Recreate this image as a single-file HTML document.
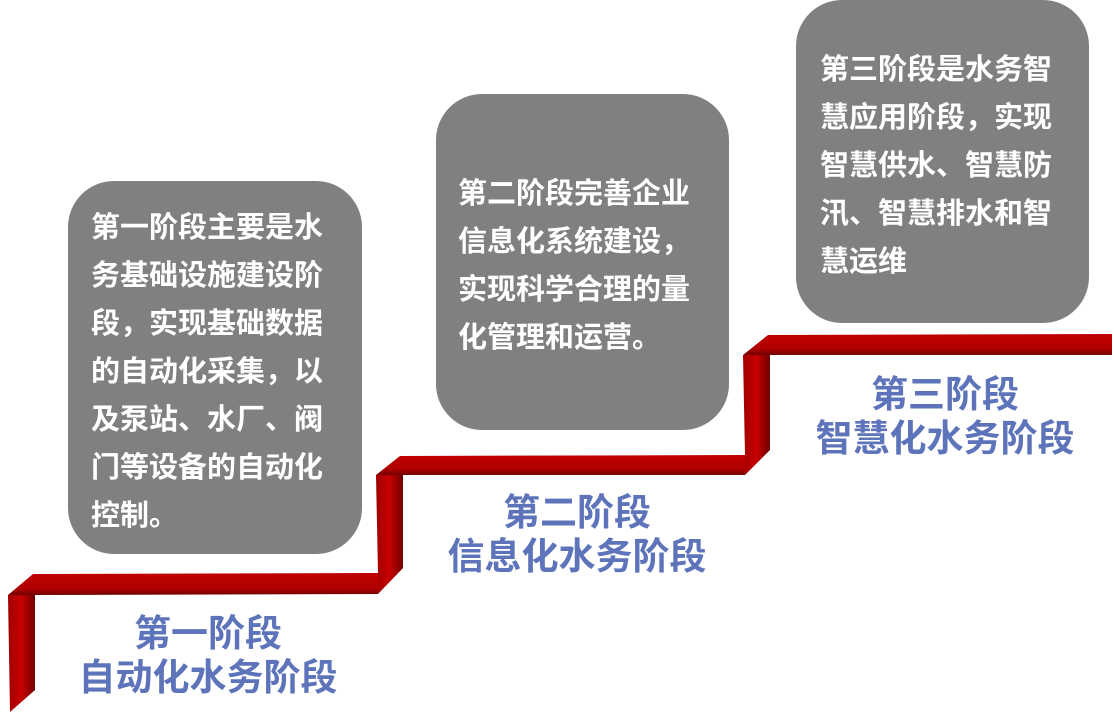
<!DOCTYPE html>
<html><head><meta charset="utf-8"><style>
body{margin:0;width:1114px;height:715px;background:#fff;position:relative;overflow:hidden;font-family:"Liberation Sans","Noto Sans CJK SC",sans-serif;}
.box{position:absolute;background:#808080;border-radius:46px;color:#fff;font-weight:bold;font-size:29px;line-height:48px;box-sizing:border-box;white-space:nowrap;}
.lbl{position:absolute;color:#5d74ba;font-weight:bold;font-size:37px;line-height:44px;text-align:center;}
</style></head><body>
<svg width="1114" height="715" style="position:absolute;left:0;top:0">
<defs>
<linearGradient id="v" x1="0" x2="1" y1="0" y2="0"><stop offset="0" stop-color="#a00000"/><stop offset="0.5" stop-color="#c80000"/><stop offset="1" stop-color="#6e0000"/></linearGradient>
<linearGradient id="h" x1="0" x2="0" y1="0" y2="1"><stop offset="0" stop-color="#c00000"/><stop offset="0.7" stop-color="#b00000"/><stop offset="1" stop-color="#700000"/></linearGradient>
</defs>
<polygon points="8,595 35,595 35,690 10,712" fill="url(#v)"/>
<polygon points="8,595 33,574 378,573 378,594 35,595" fill="url(#h)"/>
<polygon points="376,475 403,475 403,568 378,594 378,573" fill="url(#v)"/>
<polygon points="376,475 400,456 745,455 745,475 403,475" fill="url(#h)"/>
<polygon points="743,355 770,355 770,450 745,475 745,455" fill="url(#v)"/>
<polygon points="743,355 768,335 1112,334 1112,355 770,355" fill="url(#h)"/>
</svg>
<div class="box" style="left:68px;top:181px;width:294px;height:373px;padding:23px 0 0 92px;padding-left:23px;">第一阶段主要是水<br>务基础设施建设阶<br>段，实现基础数据<br>的自动化采集，以<br>及泵站、水厂、阀<br>门等设备的自动化<br>控制。</div>
<div class="box" style="left:436px;top:94px;width:293px;height:336px;padding:76px 0 0 22px;">第二阶段完善企业<br>信息化系统建设，<br>实现科学合理的量<br>化管理和运营。</div>
<div class="box" style="left:796px;top:0px;width:293px;height:323px;padding:46px 0 0 24px;">第三阶段是水务智<br>慧应用阶段，实现<br>智慧供水、智慧防<br>汛、智慧排水和智<br>慧运维</div>
<div class="lbl" style="left:58px;top:612px;width:300px;">第一阶段<br>自动化水务阶段</div>
<div class="lbl" style="left:427px;top:491px;width:300px;">第二阶段<br>信息化水务阶段</div>
<div class="lbl" style="left:795px;top:373px;width:300px;">第三阶段<br>智慧化水务阶段</div>
</body></html>
